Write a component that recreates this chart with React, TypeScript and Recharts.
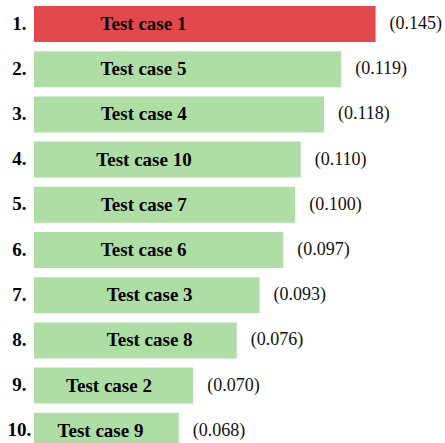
import React from "react";
import { BarChart, Bar, XAxis, YAxis, Cell, LabelList } from "recharts";

const ranks = ["1.", "2.", "3.", "4.", "5.", "6.", "7.", "8.", "9.", "10."];
const caseNames = [
  "Test case 1",
  "Test case 5",
  "Test case 4",
  "Test case 10",
  "Test case 7",
  "Test case 6",
  "Test case 3",
  "Test case 8",
  "Test case 2",
  "Test case 9",
];
const barLength = [85.4, 76.8, 72.5, 66.7, 65.3, 62.3, 56.4, 50.7, 39.8, 36.2];
const scoreLabels = ["0.145", "0.119", "0.118", "0.110", "0.100", "0.097", "0.093", "0.076", "0.070", "0.068"];

// layout: horizontal centre of each name label, in px from the bar start
const nameCentre = [109.5, 109.5, 109.8, 110, 109.8, 109.7, 115.7, 115.7, 75, 66.5];

const RED = "#E1494C";
const GREEN = "#AEDDA6";
const FONT = "'Liberation Serif', 'Times New Roman', serif";

const data = ranks.map((r, i) => ({
  rank: r,
  name: caseNames[i],
  length: barLength[i],
  score: scoreLabels[i],
}));

const RankTick = (props: any) => {
  const { y, payload } = props;
  return (
    <text x={19.3} y={y + 6} textAnchor="middle" fontFamily={FONT} fontWeight="bold" fontSize={19} fill="#000">
      {payload.value}
    </text>
  );
};

const NameLabel = (props: any) => {
  const { x, y, height, index } = props;
  return (
    <text
      x={x + nameCentre[index]}
      y={y + height / 2 + 6}
      textAnchor="middle"
      fontFamily={FONT}
      fontWeight="bold"
      fontSize={19}
      fill="#000"
    >
      {caseNames[index]}
    </text>
  );
};

const ScoreLabel = (props: any) => {
  const { x, y, width, height, index } = props;
  return (
    <text x={x + width + 14} y={y + height / 2 + 5} textAnchor="start" fontFamily={FONT} fontSize={18} fill="#111">
      {`(${scoreLabels[index]})`}
    </text>
  );
};

export default function App() {
  return (
    <div style={{ position: "absolute", left: 0, top: 0, width: 445, height: 443, overflow: "hidden", background: "#fff" }}>
      <BarChart
        width={445}
        height={453}
        data={data}
        layout="vertical"
        margin={{ top: 1, right: 11, bottom: 0, left: 0 }}
      >
        <XAxis type="number" domain={[0, 100]} hide />
        <YAxis
          type="category"
          dataKey="rank"
          width={34}
          axisLine={false}
          tickLine={false}
          tick={<RankTick />}
          interval={0}
        />
        <Bar dataKey="length" barSize={36} isAnimationActive={false}>
          {data.map((d, i) => (
            <Cell key={d.rank} fill={i === 0 ? RED : GREEN} />
          ))}
          <LabelList dataKey="name" content={<NameLabel />} />
          <LabelList dataKey="score" content={<ScoreLabel />} />
        </Bar>
      </BarChart>
    </div>
  );
}
